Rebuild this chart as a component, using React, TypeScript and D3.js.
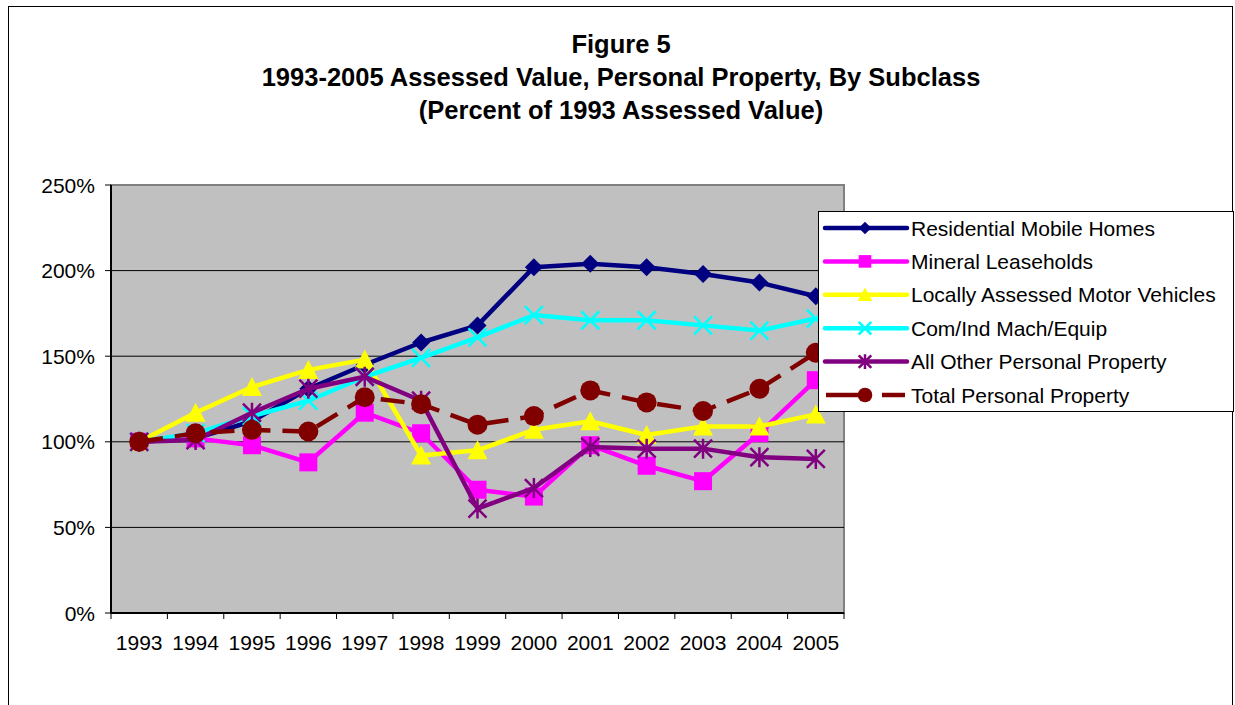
import React from 'react';
import * as d3 from 'd3';

const years = ['1993', '1994', '1995', '1996', '1997', '1998', '1999', '2000', '2001', '2002', '2003', '2004', '2005'];
const yTicks = [0, 50, 100, 150, 200, 250];

const residential = [100, 102, 112, 131, 145, 158, 168, 202, 204, 202, 198, 193, 185];
const mineral = [100, 102, 98, 88, 117, 105, 72, 68, 98, 86, 77, 105, 136];
const motorVehicles = [100, 117, 132, 142, 148, 92, 95, 107, 112, 104, 109, 109, 116];
const comInd = [100, 105, 115, 124, 138, 149, 161, 174, 171, 171, 168, 165, 172];
const allOther = [100, 101, 117, 131, 138, 124, 61, 73, 97, 96, 96, 91, 90];
const total = [100, 105, 107, 106, 126, 122, 110, 115, 130, 123, 118, 131, 152];

const series = [
  { name: 'Residential Mobile Homes', values: residential, color: '#000080', marker: 'diamond', dash: null },
  { name: 'Mineral Leaseholds', values: mineral, color: '#FF00FF', marker: 'square', dash: null },
  { name: 'Locally Assessed Motor Vehicles', values: motorVehicles, color: '#FFFF00', marker: 'triangle', dash: null },
  { name: 'Com/Ind Mach/Equip', values: comInd, color: '#00FFFF', marker: 'x', dash: null },
  { name: 'All Other Personal Property', values: allOther, color: '#800080', marker: 'star', dash: null },
  { name: 'Total Personal Property', values: total, color: '#800000', marker: 'circle', dash: '24,12' },
];

const W = 1235;
const H = 705;
const plot = { left: 111, right: 844, top: 185, bottom: 613 };
const font = '"Liberation Sans", Arial, sans-serif';

function Marker({ type, x, y, color, size = 1 }: { type: string; x: number; y: number; color: string; size?: number }) {
  const s = 9 * size;
  if (type === 'diamond') {
    return <path d={`M${x},${y - s}L${x + s},${y}L${x},${y + s}L${x - s},${y}Z`} fill={color} />;
  }
  if (type === 'square') {
    return <rect x={x - s} y={y - s} width={s * 2} height={s * 2} fill={color} />;
  }
  if (type === 'triangle') {
    return <path d={`M${x},${y - s - 1}L${x + s + 1},${y + s}L${x - s - 1},${y + s}Z`} fill={color} />;
  }
  if (type === 'circle') {
    return <circle cx={x} cy={y} r={s + 1} fill={color} />;
  }
  if (type === 'x') {
    return (
      <path d={`M${x - s},${y - s}L${x + s},${y + s}M${x - s},${y + s}L${x + s},${y - s}`} stroke={color} strokeWidth={2.5} />
    );
  }
  // star: x plus vertical bar
  return (
    <path
      d={`M${x - s},${y - s}L${x + s},${y + s}M${x - s},${y + s}L${x + s},${y - s}M${x},${y - s - 1}L${x},${y + s + 1}`}
      stroke={color}
      strokeWidth={2.5}
    />
  );
}

export default function App() {
  const x = d3.scalePoint<string>().domain(years).range([plot.left, plot.right]).padding(0.5);
  const band = d3.scaleBand<string>().domain(years).range([plot.left, plot.right]);
  const y = d3.scaleLinear().domain([0, 250]).range([plot.bottom, plot.top]);

  const line = d3
    .line<number>()
    .x((_, i) => x(years[i]) as number)
    .y((d) => y(d));

  const legendX = 818;
  const legendY = 211;
  const rowH = 33.4;

  return (
    <svg width={W} height={H} style={{ display: 'block', position: 'absolute', left: 0, top: 0 }}>
      <rect x={0} y={0} width={W} height={H} fill="#fff" />
      <rect x={8.5} y={6.5} width={1224} height={720} fill="#fff" stroke="#000" strokeWidth={1} />

      <g fontFamily={font} fontWeight="bold" fontSize={25.5} textAnchor="middle" fill="#000">
        <text x={621} y={53}>Figure 5</text>
        <text x={621} y={86}>1993-2005 Assessed Value, Personal Property, By Subclass</text>
        <text x={621} y={119}>(Percent of 1993 Assessed Value)</text>
      </g>

      {/* plot area */}
      <rect
        x={plot.left}
        y={plot.top}
        width={plot.right - plot.left}
        height={plot.bottom - plot.top}
        fill="#C0C0C0"
        stroke="#808080"
        strokeWidth={2}
      />
      {yTicks.map((t) => (
        <g key={t}>
          {t > 0 && t < 250 && (
            <line x1={plot.left} x2={plot.right} y1={y(t)} y2={y(t)} stroke="#000" strokeWidth={1} />
          )}
          <line x1={plot.left - 6} x2={plot.left} y1={y(t)} y2={y(t)} stroke="#000" strokeWidth={1} />
          <text x={95} y={y(t) + 7.5} textAnchor="end" fontFamily={font} fontSize={21}>
            {t}%
          </text>
        </g>
      ))}
      <line x1={plot.left} x2={plot.left} y1={plot.top} y2={plot.bottom} stroke="#000" strokeWidth={2} />
      <line x1={plot.left} x2={plot.right} y1={plot.bottom} y2={plot.bottom} stroke="#000" strokeWidth={2} />
      {years.map((yr) => (
        <line
          key={yr}
          x1={band(yr) as number}
          x2={band(yr) as number}
          y1={plot.bottom}
          y2={plot.bottom + 6}
          stroke="#000"
        />
      ))}
      <line x1={plot.right} x2={plot.right} y1={plot.bottom} y2={plot.bottom + 6} stroke="#000" />
      {years.map((yr) => (
        <text key={yr} x={x(yr) as number} y={650} textAnchor="middle" fontFamily={font} fontSize={21}>
          {yr}
        </text>
      ))}

      {/* series */}
      {series.map((s) => (
        <g key={s.name}>
          <path
            d={line(s.values) as string}
            fill="none"
            stroke={s.color}
            strokeWidth={4.5}
            strokeDasharray={s.dash ?? undefined}
            strokeLinejoin="round"
          />
          {s.values.map((v, i) => (
            <Marker key={i} type={s.marker} x={x(years[i]) as number} y={y(v)} color={s.color} />
          ))}
        </g>
      ))}

      {/* legend */}
      <rect x={legendX + 0.5} y={legendY + 0.5} width={415} height={200} fill="#fff" stroke="#000" strokeWidth={1} />
      {series.map((s, i) => {
        const cy = legendY + 17 + i * rowH;
        return (
          <g key={s.name}>
            {s.dash ? (
              <>
                <line x1={826} x2={865} y1={cy} y2={cy} stroke={s.color} strokeWidth={4.5} />
                <line x1={882} x2={905} y1={cy} y2={cy} stroke={s.color} strokeWidth={4.5} />
              </>
            ) : (
              <line x1={825} x2={907} y1={cy} y2={cy} stroke={s.color} strokeWidth={4.5} strokeLinecap="round" />
            )}
            <Marker type={s.marker} x={865} y={cy} color={s.color} size={0.7} />
            <text x={911} y={cy + 7.5} fontFamily={font} fontSize={21}>
              {s.name}
            </text>
          </g>
        );
      })}
    </svg>
  );
}
